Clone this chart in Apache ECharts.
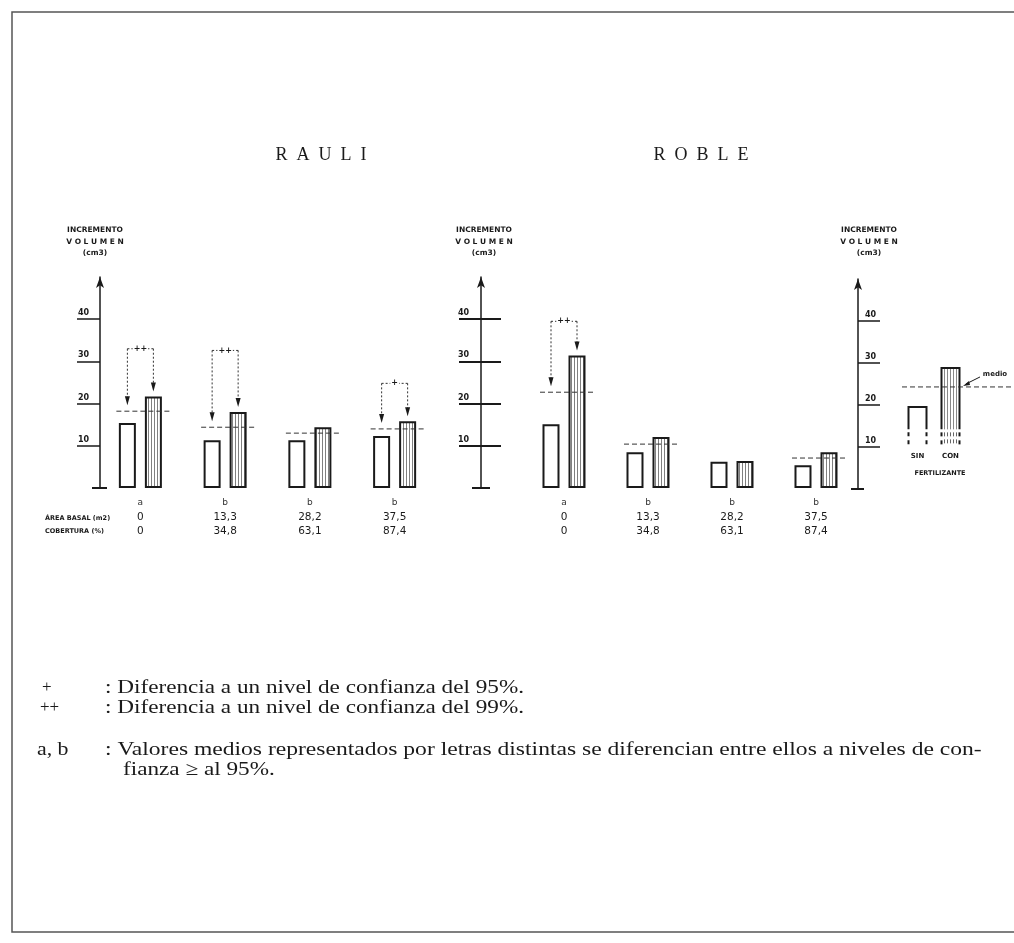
<!DOCTYPE html>
<html>
<head>
<meta charset="utf-8">
<script src="https://cdn.jsdelivr.net/npm/echarts@6/dist/echarts.min.js"></script>
<style>
  html, body { margin: 0; padding: 0; background: #fff; }
  #chart { width: 1014px; height: 943px; }
</style>
</head>
<body>
<div id="chart"></div>
<script>
// incremento volumen (cm3)
var grupos = ['a', 'b', 'b', 'b'];
var areaBasal = ['0', '13,3', '28,2', '37,5'];
var cobertura = ['0', '34,8', '63,1', '87,4'];
var yTicks = [10, 20, 30, 40];

var rauliSin = [15.4, 11.3, 11.3, 12.3];
var rauliCon = [21.7, 18.0, 14.4, 15.8];
var rauliMedio = [18.2, 14.4, 13.0, 14.0];
var rauliTope = [33.0, 32.6, null, 24.8];
var rauliSig = ['++', '++', '', '+'];

var robleSin = [15.1, 8.5, 6.2, 5.4];
var robleCon = [31.4, 12.1, 6.4, 8.5];
var robleMedio = [22.7, 10.4, null, 7.1];
var robleTope = [39.5, null, null, null];
var robleSig = ['++', '', '', ''];

// leyenda (esquema SIN / CON fertilizante)
var leyendaNombres = ['SIN', 'CON'];
var leyendaValores = [19.5, 28.8];
var leyendaCorte = 14.2;
var leyendaBase = 10.2;
var leyendaMedio = 24.3;

var negro = '#1a1a1a';
var sans = '"DejaVu Sans", sans-serif';
var serif = '"Liberation Serif", serif';

// rayado vertical de las barras "con fertilizante"
var rayado = document.createElement('canvas');
rayado.width = 3;
rayado.height = 4;
var ctx = rayado.getContext('2d');
ctx.fillStyle = '#fff';
ctx.fillRect(0, 0, 3, 4);
ctx.fillStyle = '#808080';
ctx.fillRect(1, 0, 1, 4);

var chart = echarts.init(document.getElementById('chart'));

function flecha(x, y1, y2) {
  return [
    { type: 'line', shape: { x1: x, y1: y1, x2: x, y2: y2 - 7 }, style: { stroke: '#333', lineWidth: 1, lineDash: [2, 2] } },
    { type: 'polygon', shape: { points: [[x - 2.5, y2 - 9], [x + 2.5, y2 - 9], [x, y2]] }, style: { fill: negro } }
  ];
}

// lineas de media, flechas y niveles de significancia
function anotaciones(con, medio, tope, sig) {
  return function (params, api) {
    var i = params.dataIndex;
    var cx = api.coord([i, 0])[0];
    var hijos = [];
    if (medio[i] != null) {
      var ym = api.coord([i, medio[i]])[1];
      hijos.push({ type: 'line', shape: { x1: cx - 24, y1: ym, x2: cx + 29, y2: ym }, style: { stroke: '#333', lineWidth: 1, lineDash: [5, 3] } });
    }
    if (tope[i] != null) {
      var yt = api.coord([i, tope[i]])[1];
      var xl = cx - 13, xr = cx + 13;
      var yl = api.coord([i, medio[i]])[1] - 6;
      var yr = api.coord([i, con[i]])[1] - 5;
      hijos.push({ type: 'line', shape: { x1: xl, y1: yt, x2: xr, y2: yt }, style: { stroke: '#333', lineWidth: 1, lineDash: [2, 2] } });
      hijos = hijos.concat(flecha(xl, yt, yl), flecha(xr, yt, yr));
      hijos.push({ type: 'text', style: { text: sig[i], x: cx, y: yt, align: 'center', verticalAlign: 'middle', font: 'bold 8px ' + sans, fill: negro, backgroundColor: '#fff', padding: [0, 1] } });
    }
    return { type: 'group', children: hijos };
  };
}

function leyenda(params, api) {
  var cx = api.coord([0, 0])[0];
  var yCorte = api.coord([0, leyendaCorte])[1];
  var yBase = api.coord([0, leyendaBase])[1];
  var hijos = [];
  leyendaValores.forEach(function (v, b) {
    var xc = cx + (b === 0 ? -16.5 : 16.5);
    var x0 = xc - 9, x1 = xc + 9;
    var yTop = api.coord([0, v])[1];
    if (b === 1) {
      for (var hx = x0 + 3; hx < x1 - 1; hx += 3) {
        hijos.push({ type: 'line', shape: { x1: hx, y1: yTop, x2: hx, y2: yCorte }, style: { stroke: '#888', lineWidth: 1 } });
        hijos.push({ type: 'line', shape: { x1: hx, y1: yCorte + 3, x2: hx, y2: yBase }, style: { stroke: '#666', lineWidth: 1, lineDash: [4, 3] } });
      }
    }
    hijos.push({ type: 'polyline', shape: { points: [[x0, yCorte], [x0, yTop], [x1, yTop], [x1, yCorte]] }, style: { stroke: negro, lineWidth: 2, fill: 'none' } });
    hijos.push({ type: 'line', shape: { x1: x0, y1: yCorte + 3, x2: x0, y2: yBase }, style: { stroke: negro, lineWidth: 2, lineDash: [4, 4] } });
    hijos.push({ type: 'line', shape: { x1: x1, y1: yCorte + 3, x2: x1, y2: yBase }, style: { stroke: negro, lineWidth: 2, lineDash: [4, 4] } });
    hijos.push({ type: 'text', style: { text: leyendaNombres[b], x: xc, y: yBase + 10, align: 'center', verticalAlign: 'middle', font: 'bold 7px ' + sans, fill: negro } });
  });
  var ym = api.coord([0, leyendaMedio])[1];
  hijos.push({ type: 'line', shape: { x1: cx - 32, y1: ym, x2: cx + 78, y2: ym }, style: { stroke: '#333', lineWidth: 1, lineDash: [5, 3] } });
  hijos.push({ type: 'text', style: { text: 'medio', x: cx + 61, y: ym - 13, align: 'center', verticalAlign: 'middle', font: 'bold 7px ' + sans, fill: negro } });
  hijos.push({ type: 'line', shape: { x1: cx + 46, y1: ym - 10, x2: cx + 32, y2: ym - 3 }, style: { stroke: negro, lineWidth: 1 } });
  hijos.push({ type: 'polygon', shape: { points: [[cx + 29, ym - 1], [cx + 35, ym - 6], [cx + 36, ym - 2]] }, style: { fill: negro } });
  hijos.push({ type: 'text', style: { text: 'FERTILIZANTE', x: cx + 6, y: yBase + 27, align: 'center', verticalAlign: 'middle', font: 'bold 6.5px ' + sans, fill: negro } });
  return { type: 'group', children: hijos };
}

function ejeY(grid, extra) {
  var base = {
    type: 'value', gridIndex: grid, min: 0, max: 50, position: 'left',
    splitLine: { show: false },
    axisLine: { show: true, symbol: ['none', 'arrow'], symbolSize: [6, 11], lineStyle: { color: negro, width: 1.5 } },
    axisTick: { show: true, customValues: yTicks, length: 23, lineStyle: { color: negro, width: 1.5 } },
    axisLabel: {
      customValues: yTicks, align: 'left', verticalAlign: 'bottom', margin: 22, padding: [0, 0, 2, 0],
      color: negro, fontFamily: sans, fontSize: 8, fontWeight: 'bold'
    }
  };
  return echarts.util.merge(base, extra || {}, true);
}

function ejeX(grid) {
  return {
    type: 'category', gridIndex: grid, data: areaBasal,
    axisLine: { show: false }, axisTick: { show: false },
    axisLabel: {
      interval: 0, margin: 7,
      formatter: function (v, idx) {
        return '{l|' + grupos[idx] + '}\n{n|' + areaBasal[idx] + '}\n{n|' + cobertura[idx] + '}';
      },
      rich: {
        l: { fontFamily: sans, fontSize: 9, lineHeight: 16, color: '#333' },
        n: { fontFamily: sans, fontSize: 10.5, lineHeight: 13.5, color: negro }
      }
    }
  };
}

function barras(eje, datos, rellena) {
  return {
    type: 'bar', xAxisIndex: eje, yAxisIndex: eje === 0 ? 0 : 1, data: datos,
    barWidth: 17, barGap: '53%', silent: true,
    itemStyle: { color: rellena ? { image: rayado, repeat: 'repeat' } : '#fff', borderColor: negro, borderWidth: 2 }
  };
}

function texto(t, x, y, font, alinear, extra) {
  var el = { type: 'text', x: x, y: y, style: { text: t, x: 0, y: 0, font: font, fill: negro, align: alinear || 'center', verticalAlign: 'middle' } };
  return echarts.util.merge(el, extra || {}, true);
}

function tituloEje(cx) {
  var f = 'bold 7.5px ' + sans;
  return [
    texto('INCREMENTO', cx, 230, f),
    texto('V O L U M E N', cx, 242, f),
    texto('(cm3)', cx, 253, f)
  ];
}

var notas = 'bold 19px ' + serif;
var graficos = [
  { type: 'rect', shape: { x: 12, y: 12, width: 1010, height: 920 }, style: { fill: 'none', stroke: '#555', lineWidth: 1.5 } },
  texto('R  A  U  L  I', 321, 155, '18px ' + serif),
  texto('R  O  B  L  E', 701, 155, '18px ' + serif),
  texto('ÁREA BASAL (m2)', 45, 518, 'bold 6.5px ' + sans, 'left'),
  texto('COBERTURA (%)', 45, 531, 'bold 6.5px ' + sans, 'left'),
  { type: 'line', shape: { x1: 92, y1: 488, x2: 107, y2: 488 }, style: { stroke: negro, lineWidth: 2 } },
  { type: 'line', shape: { x1: 472, y1: 488, x2: 490, y2: 488 }, style: { stroke: negro, lineWidth: 2 } },
  { type: 'line', shape: { x1: 851, y1: 489, x2: 864, y2: 489 }, style: { stroke: negro, lineWidth: 2 } },
  texto('+', 42, 688, '17px ' + serif, 'left'),
  texto(': Diferencia a un nivel de confianza del 95%.', 105, 688, '19px ' + serif, 'left', { scaleX: 1.22 }),
  texto('++', 40, 708, '17px ' + serif, 'left'),
  texto(': Diferencia a un nivel de confianza del 99%.', 105, 708, '19px ' + serif, 'left', { scaleX: 1.22 }),
  texto('a, b', 37, 750, '19px ' + serif, 'left', { scaleX: 1.15 }),
  texto(': Valores medios representados por letras distintas se diferencian entre ellos a niveles de con-', 105, 750, '19px ' + serif, 'left', { scaleX: 1.24 }),
  texto('fianza ≥ al 95%.', 123, 770, '19px ' + serif, 'left', { scaleX: 1.22 })
].concat(tituloEje(95), tituloEje(484), tituloEje(869));

var option = {
  animation: false,
  backgroundColor: '#fff',
  grid: [
    { left: 98, top: 277, width: 339, height: 211, outerBoundsMode: 'none' },
    { left: 522, top: 277, width: 336, height: 211, outerBoundsMode: 'none' },
    { left: 858, top: 279, width: 152, height: 210, outerBoundsMode: 'none' }
  ],
  xAxis: [
    ejeX(0),
    ejeX(1),
    { type: 'category', gridIndex: 2, data: [''], axisLine: { show: false }, axisTick: { show: false }, axisLabel: { show: false } }
  ],
  yAxis: [
    ejeY(0, { offset: -2 }),
    ejeY(1, { offset: 41, axisTick: { length: 22, lineStyle: { width: 2 } }, axisLabel: { margin: 23 } }),
    ejeY(1, { offset: 41, axisLine: { show: false }, axisTick: { inside: true, length: 20, lineStyle: { width: 2 } }, axisLabel: { show: false } }),
    ejeY(2, { axisTick: { inside: true, length: 22 }, axisLabel: { inside: true, margin: 7 } })
  ],
  graphic: graficos,
  series: [
    barras(0, rauliSin, false),
    barras(0, rauliCon, true),
    {
      type: 'custom', xAxisIndex: 0, yAxisIndex: 0, z: 5, silent: true,
      data: rauliCon.map(function (v, i) { return [i, v]; }),
      renderItem: anotaciones(rauliCon, rauliMedio, rauliTope, rauliSig)
    },
    barras(1, robleSin, false),
    barras(1, robleCon, true),
    {
      type: 'custom', xAxisIndex: 1, yAxisIndex: 1, z: 5, silent: true,
      data: robleCon.map(function (v, i) { return [i, v]; }),
      renderItem: anotaciones(robleCon, robleMedio, robleTope, robleSig)
    },
    {
      type: 'custom', xAxisIndex: 2, yAxisIndex: 3, z: 5, silent: true,
      data: [[0, leyendaMedio]],
      renderItem: leyenda
    }
  ]
};

chart.setOption(option);
</script>
</body>
</html>
